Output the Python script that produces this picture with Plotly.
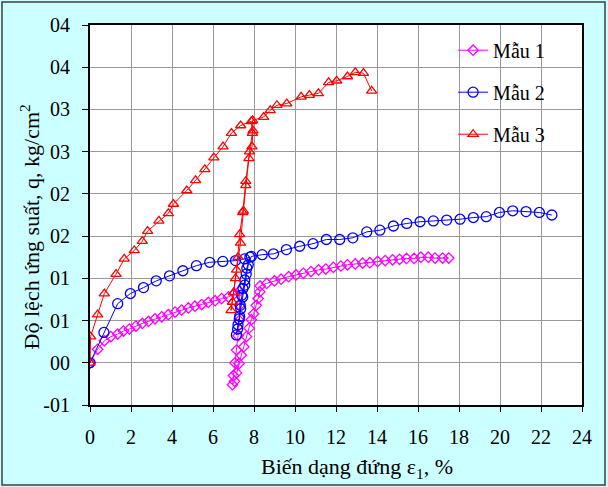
import plotly.graph_objects as go

# ---- data (strain %, deviator stress) ----
m1_x = [0, 0.37, 0.70, 1.02, 1.35, 1.63, 1.92, 2.24, 2.55, 2.85, 3.17, 3.50, 3.82, 4.15, 4.47, 4.80, 5.12, 5.45, 5.77, 6.10, 6.42, 6.75, 7.05, 7.30,
        7.30, 7.28, 7.22, 7.15, 7.07, 7.00, 6.95,
        7.05, 7.15, 7.27, 7.38, 7.50, 7.63, 7.76, 7.87, 7.98, 8.11, 8.20, 8.28, 8.30,
        8.62, 9.00, 9.32, 9.69, 10.05, 10.41, 10.78, 11.15, 11.50, 11.87, 12.24, 12.56, 12.94, 13.30, 13.65, 14.03, 14.40, 14.76, 15.10, 15.44, 15.81, 16.14, 16.50, 16.83, 17.20, 17.50]
m1_q = [0, 0.016, 0.026, 0.031, 0.034, 0.0375, 0.040, 0.0435, 0.0466, 0.049, 0.052, 0.0545, 0.057, 0.060, 0.0625, 0.065, 0.067, 0.069, 0.0715, 0.0735, 0.076, 0.078, 0.082, 0.085,
        0.068, 0.050, 0.032, 0.015, 0.000, -0.015, -0.026,
        -0.022, -0.012, -0.001, 0.009, 0.019, 0.031, 0.041, 0.051, 0.058, 0.068, 0.076, 0.084, 0.091,
        0.094, 0.097, 0.099, 0.102, 0.104, 0.106, 0.108, 0.110, 0.111, 0.113, 0.1146, 0.116, 0.117, 0.118, 0.1185, 0.120, 0.121, 0.122, 0.1225, 0.1236, 0.1236, 0.125, 0.125, 0.124, 0.124, 0.124]

m2_x = [0, 0.68, 1.35, 1.97, 2.61, 3.23, 3.88, 4.53, 5.19, 5.84, 6.48, 7.10, 7.54, 7.80,
        7.65, 7.55, 7.46, 7.40, 7.33, 7.30, 7.22, 7.14,
        7.20, 7.28, 7.35, 7.45, 7.55, 7.62, 7.72, 7.87,
        8.40, 8.95, 9.58, 10.23, 10.88, 11.53, 12.18, 12.82, 13.50, 14.14, 14.80, 15.45, 16.10, 16.75, 17.40, 18.05, 18.70, 19.33, 19.97, 20.62, 21.27, 21.92, 22.53]
m2_q = [0, 0.036, 0.070, 0.082, 0.089, 0.097, 0.103, 0.109, 0.115, 0.119, 0.120, 0.121, 0.123, 0.125,
        0.112, 0.098, 0.088, 0.080, 0.068, 0.055, 0.045, 0.033,
        0.040, 0.052, 0.064, 0.078, 0.092, 0.105, 0.116, 0.126,
        0.128, 0.129, 0.134, 0.138, 0.141, 0.146, 0.146, 0.148, 0.155, 0.157, 0.162, 0.165, 0.167, 0.168, 0.169, 0.170, 0.172, 0.173, 0.178, 0.180, 0.179, 0.178, 0.175]

m3_x = [0, 0.03, 0.37, 0.70, 1.27, 1.67, 2.16, 2.55, 2.81, 3.36, 3.82, 4.07, 4.72, 5.15, 5.60, 6.04, 6.49, 6.90, 7.35, 7.87,
        7.92, 7.78, 7.60, 7.45, 7.30, 7.15, 7.00, 6.88,
        6.95, 7.10, 7.22, 7.34, 7.48, 7.60, 7.75, 7.90, 7.95, 7.93,
        8.47, 8.79, 9.12, 9.60, 10.30, 10.70, 11.14, 11.64, 12.03, 12.56, 12.94, 13.34, 13.74]
m3_q = [0, 0.031, 0.057, 0.082, 0.105, 0.123, 0.133, 0.144, 0.156, 0.168, 0.177, 0.188, 0.204, 0.216, 0.229, 0.243, 0.256, 0.272, 0.281, 0.286,
        0.272, 0.250, 0.215, 0.178, 0.152, 0.110, 0.083, 0.062,
        0.072, 0.100, 0.125, 0.142, 0.180, 0.210, 0.242, 0.256, 0.275, 0.287,
        0.291, 0.299, 0.305, 0.307, 0.315, 0.317, 0.319, 0.332, 0.334, 0.339, 0.344, 0.343, 0.322]

series_names = ["Mẫu 1", "Mẫu 2", "Mẫu 3"]
x_ticks = [0, 2, 4, 6, 8, 10, 12, 14, 16, 18, 20, 22, 24]
y_tickvals = [-0.05, 0, 0.05, 0.10, 0.15, 0.20, 0.25, 0.30, 0.35, 0.40]
y_ticktext = ["-01", "00", "01", "01", "02", "02", "03", "03", "04", "04"]

FONT = "Liberation Serif, Times New Roman, serif"

fig = go.Figure()
styles = [
    (m1_x, m1_q, "#FF00FF", "diamond-open", 8),
    (m2_x, m2_q, "#0000FF", "circle-open", 10),
    (m3_x, m3_q, "#FF0000", "triangle-up-open", 9),
]
for name, (xs, ys, col, sym, sz) in zip(series_names, styles):
    fig.add_trace(go.Scatter(
        x=xs, y=ys, name=name, legendgroup=name, mode="lines+markers",
        line=dict(color=col, width=1),
        marker=dict(symbol=sym, size=sz, color=col, line=dict(color=col, width=1.3)),
    ))

fig.update_layout(
    width=608, height=487,
    margin=dict(l=90, r=26, t=25, b=82),
    paper_bgcolor="#CCFFFF",
    plot_bgcolor="white",
    font=dict(family=FONT, size=20, color="black"),
    legend=dict(x=0.738, y=0.985, xanchor="left", yanchor="top",
                bgcolor="rgba(0,0,0,0)", borderwidth=0, tracegroupgap=13,
                font=dict(family=FONT, size=20)),
    showlegend=True,
)
fig.update_xaxes(
    range=[0, 24], tickvals=x_ticks, ticks="outside", ticklen=5, tickcolor="black",
    showgrid=True, gridcolor="#999999", gridwidth=1,
    showline=True, linecolor="black", linewidth=2, mirror=True,
    zeroline=False, ticklabelstandoff=8,
)
fig.update_yaxes(
    range=[-0.05, 0.40], tickvals=y_tickvals, ticktext=y_ticktext,
    ticks="outside", ticklen=6, tickcolor="black",
    showgrid=True, gridcolor="#999999", gridwidth=1,
    showline=True, linecolor="black", linewidth=2, mirror=True,
    zeroline=True, zerolinecolor="#999999", zerolinewidth=1, ticklabelstandoff=8,
)
fig.add_annotation(text="Biến dạng đứng ε<sub>1</sub>, %", xref="paper", yref="paper",
                   x=0.543, y=-0.165, xanchor="center", yanchor="middle", showarrow=False,
                   font=dict(family=FONT, size=22))
fig.add_annotation(text="Độ lệch ứng suất, q, kg/cm<sup>2</sup>", xref="paper", yref="paper",
                   x=-0.122, y=0.47, xanchor="center", yanchor="middle", textangle=-90,
                   showarrow=False, font=dict(family=FONT, size=22))
# outer chart border
fig.add_shape(type="rect", xref="paper", yref="paper",
              x0=-88/492, x1=515/492, y0=-80/380, y1=403/380,
              line=dict(color="#404040", width=1.5), fillcolor="rgba(0,0,0,0)", layer="below")

fig.write_html("out.html")
